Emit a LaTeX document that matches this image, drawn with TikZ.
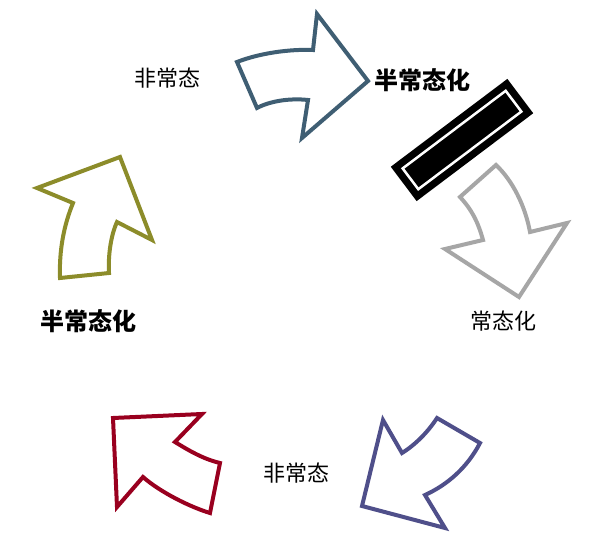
\documentclass[tikz,border=0pt]{standalone}
\usepackage{fontspec}
\newfontfamily\cjk{Noto Sans CJK SC}
\definecolor{arrowBlue}{HTML}{3F5E73}
\definecolor{arrowGray}{HTML}{A6A6A6}
\definecolor{arrowPurple}{HTML}{4F4F8A}
\definecolor{arrowRed}{HTML}{99001F}
\definecolor{arrowOlive}{HTML}{8C8C2A}
\begin{document}
\begin{tikzpicture}[x=1pt,y=-1pt,
        bigarrow/.style={line width=4pt, line join=miter, fill=white},
        lbl/.style={font=\cjk\fontsize{22}{26}\selectfont},
        blbl/.style={font=\cjk\bfseries\fontsize{24}{28}\selectfont}]

        \useasboundingbox (0,0) rectangle (608,551);

        % curved block arrows
        \draw[bigarrow, draw=arrowBlue] (237,62) .. controls (260,53) and (290,49) .. (313,50)
                -- (317,14) -- (368,81) -- (302,138) -- (308,100)
                .. controls (290,98) and (270,101) .. (257,108) -- cycle;
        \draw[bigarrow, draw=arrowGray] (460,197) -- (496,165)
                .. controls (512,180) and (525,205) .. (530,232)
                -- (567,223) -- (519,297) -- (445,249) -- (483,240)
                .. controls (478,222) and (472,210) .. cycle;
        \draw[bigarrow, draw=arrowPurple] (383,420) -- (402,453)
                .. controls (415,445) and (428,432) .. (437,418)
                -- (480,443) .. controls (467,468) and (447,485) .. (425,495)
                -- (445,528) -- (362,506) -- cycle;
        \draw[bigarrow, draw=arrowRed] (113,418) -- (202,414) -- (175,442)
                .. controls (188,450) and (203,459) .. (220,463)
                -- (210,513) .. controls (190,507) and (160,492) .. (143,477)
                -- (117,507) -- cycle;
        \draw[bigarrow, draw=arrowOlive] (37,188) -- (120,157) -- (152,240) -- (117,222)
                .. controls (111,235) and (108,255) .. (109,273)
                -- (60,278) .. controls (59,250) and (64,225) .. (73,203) -- cycle;

        % bar
        \node[fill=black, minimum width=146pt, minimum height=43pt, rotate=37] (bar) at (462,140) {};
        \node[draw=white, line width=2.5pt, minimum width=129pt, minimum height=26pt, rotate=37] (barline) at (bar.center) {};

        % labels
        \node[lbl]  (nonA)  at (167,78)  {非常态};
        \node[blbl] (semiA) at (422,80)  {半常态化};
        \node[lbl]  (norm)  at (503,321) {常态化};
        \node[lbl]  (nonB)  at (296,473) {非常态};
        \node[blbl] (semiB) at (88,321)  {半常态化};
\end{tikzpicture}
\end{document}
